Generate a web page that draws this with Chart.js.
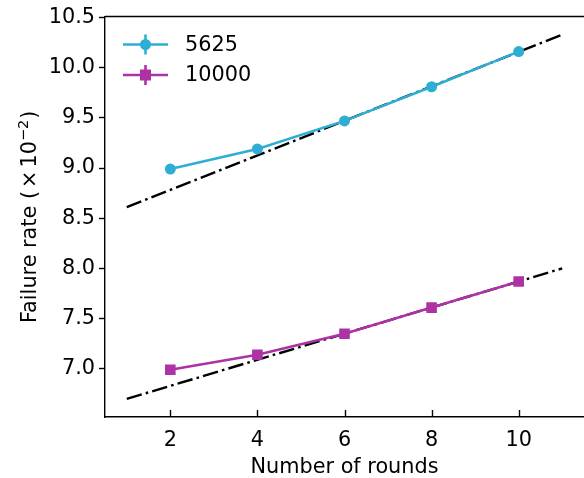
<!DOCTYPE html>
<html>
<head>
<meta charset="utf-8">
<script src="https://cdn.jsdelivr.net/npm/chart.js@4/dist/chart.umd.min.js"></script>
<style>
  html, body { margin: 0; padding: 0; background: #fff; overflow: hidden; }
  canvas { display: block; }
</style>
</head>
<body>
<canvas id="chart" width="584" height="478"></canvas>
<script>
const rounds = [2, 4, 6, 8, 10]
const rate5625 = [8.99, 9.19, 9.47, 9.81, 10.16]
const rate10000 = [6.99, 7.14, 7.35, 7.61, 7.87]
// linear fits, end points
const fitX = [1, 11]
const fit5625 = [8.61, 10.33]
const fit10000 = [6.70, 8.00]
const xTicks = [2, 4, 6, 8, 10]
const yTicks = [7.0, 7.5, 8.0, 8.5, 9.0, 9.5, 10.0, 10.5]

const cyan = "#2faed3"
const magenta = "#ae32a6"
const font = "DejaVu Sans"
const fsize = 20.8

const pts = (xs, ys) => xs.map((x, i) => ({x: x, y: ys[i]}))

const lw = 2.6
const dashDot = [6.0 * lw, 1.6 * lw, 1 * lw, 1.6 * lw]

const extras = {
  id: "extras",
  afterLayout(chart) {
    // the axes box runs right up to the canvas edge (right spine is cut off)
    const xs = chart.scales.x
    xs.right = chart.width
    xs.width = xs.right - xs.left
    xs.configure()
    chart.chartArea.right = chart.width
    chart.chartArea.width = chart.chartArea.right - chart.chartArea.left
  },
  afterDraw(chart) {
    const ctx = chart.ctx
    const a = chart.chartArea
    const xs = chart.scales.x
    ctx.save()
    ctx.strokeStyle = "#000"
    ctx.lineWidth = 1.4
    // top spine
    ctx.beginPath()
    ctx.moveTo(a.left, a.top)
    ctx.lineTo(a.right, a.top)
    ctx.stroke()
    // inward x ticks
    xTicks.forEach(v => {
      const px = Math.round(xs.getPixelForValue(v)) + 0.5
      ctx.beginPath()
      ctx.moveTo(px, a.bottom)
      ctx.lineTo(px, a.bottom - 7)
      ctx.stroke()
    })
    // legend with errorbar glyphs
    const items = [
      {label: chart.data.datasets[0].label, color: cyan, shape: "circle"},
      {label: chart.data.datasets[1].label, color: magenta, shape: "square"}
    ]
    items.forEach((it, i) => {
      const y = 44.5 + 30.5 * i
      const cx = 145.5
      ctx.strokeStyle = it.color
      ctx.fillStyle = it.color
      ctx.lineWidth = lw
      ctx.beginPath()
      ctx.moveTo(123, y)
      ctx.lineTo(168, y)
      ctx.moveTo(cx, y - 10)
      ctx.lineTo(cx, y + 10)
      ctx.stroke()
      ctx.beginPath()
      if (it.shape === "circle") {
        ctx.arc(cx, y, 5.5, 0, Math.PI * 2)
      } else {
        ctx.rect(cx - 5.5, y - 5.5, 11, 11)
      }
      ctx.fill()
      ctx.fillStyle = "#000"
      ctx.font = fsize + "px '" + font + "'"
      ctx.textBaseline = "middle"
      ctx.textAlign = "left"
      ctx.fillText(it.label, 185, y + 1)
    })

    // y title with a real superscript, like mathtext
    const parts = [
      {t: "Failure rate (", size: fsize, rise: 0, gap: 3},
      {t: "×", size: fsize, rise: 0, gap: 3},
      {t: "10", size: fsize, rise: 0, gap: 0},
      {t: "−2", size: fsize * 0.7, rise: 8, gap: 1},
      {t: ")", size: fsize, rise: 0, gap: 0}
    ]
    let total = 0
    parts.forEach(p => {
      ctx.font = p.size + "px '" + font + "'"
      p.w = ctx.measureText(p.t).width
      total += p.w + p.gap
    })
    ctx.translate(36, (a.top + a.bottom) / 2)
    ctx.rotate(-Math.PI / 2)
    ctx.fillStyle = "#000"
    ctx.textBaseline = "alphabetic"
    ctx.textAlign = "left"
    let x = -total / 2
    parts.forEach(p => {
      ctx.font = p.size + "px '" + font + "'"
      ctx.fillText(p.t, x, -p.rise)
      x += p.w + p.gap
    })
    ctx.restore()
  }
}

new Chart(document.getElementById("chart"), {
  type: "scatter",
  data: {
    datasets: [
      {
        label: "5625",
        data: pts(rounds, rate5625),
        showLine: true,
        borderColor: cyan,
        backgroundColor: cyan,
        borderWidth: lw,
        pointStyle: "circle",
        pointRadius: 5.5,
        pointBorderWidth: 0,
        order: 1
      },
      {
        label: "10000",
        data: pts(rounds, rate10000),
        showLine: true,
        borderColor: magenta,
        backgroundColor: magenta,
        borderWidth: lw,
        pointStyle: "rect",
        pointRadius: 7.5,
        pointBorderWidth: 0,
        order: 1
      },
      {
        label: "fit 5625",
        data: pts(fitX, fit5625),
        showLine: true,
        borderColor: "#000",
        borderWidth: 2.4,
        borderDash: dashDot,
        pointRadius: 0,
        order: 2
      },
      {
        label: "fit 10000",
        data: pts(fitX, fit10000),
        showLine: true,
        borderColor: "#000",
        borderWidth: 2.4,
        borderDash: dashDot,
        pointRadius: 0,
        order: 2
      }
    ]
  },
  options: {
    responsive: false,
    animation: false,
    layout: { padding: { top: 16, right: 0, left: 0, bottom: 0 } },
    plugins: {
      legend: { display: false },
      tooltip: { enabled: false }
    },
    scales: {
      x: {
        type: "linear",
        min: 0.5,
        max: 11.5,
        afterBuildTicks: s => { s.ticks = xTicks.map(v => ({value: v})) },
        afterFit: s => { s.height = 61; s.paddingLeft = 0; s.paddingRight = 0 },
        grid: { display: false },
        border: { display: true, color: "#000", width: 1.4 },
        ticks: {
          color: "#000",
          padding: 3,
          font: { family: font, size: fsize }
        },
        title: {
          display: true,
          text: "Number of rounds",
          color: "#000",
          padding: { top: 0, bottom: -2 },
          font: { family: font, size: fsize }
        }
      },
      y: {
        min: 6.52,
        max: 10.51,
        afterBuildTicks: s => { s.ticks = yTicks.map(v => ({value: v})) },
        afterFit: s => { s.width = 105 },
        grid: {
          display: true,
          drawOnChartArea: false,
          drawTicks: true,
          tickLength: 6,
          tickColor: "#000",
          tickWidth: 1.4
        },
        border: { display: true, color: "#000", width: 1.4 },
        ticks: {
          color: "#000",
          padding: 4,
          callback: v => v.toFixed(1),
          font: { family: font, size: fsize }
        },
        title: { display: false }
      }
    }
  },
  plugins: [extras]
})
</script>
</body>
</html>
